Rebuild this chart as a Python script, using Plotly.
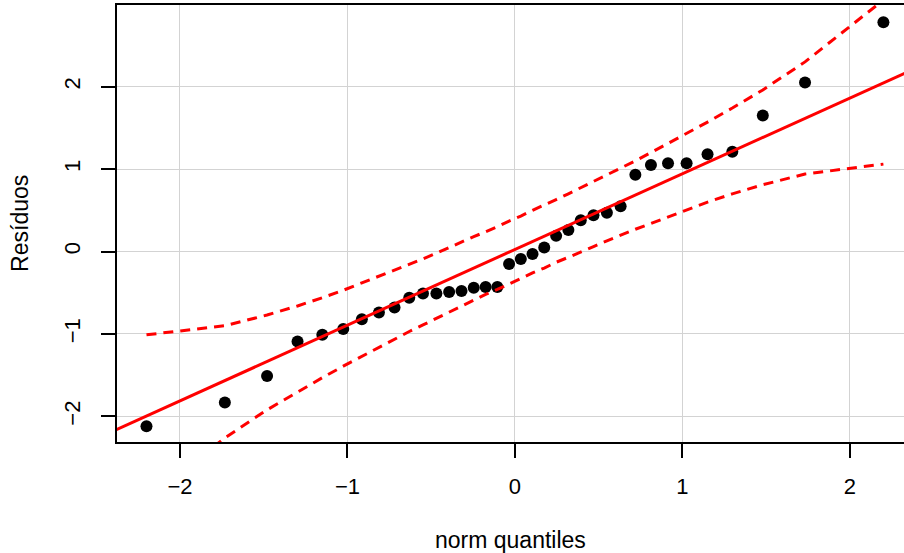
import plotly.graph_objects as go

# ---- data ----
theoretical_quantiles = [
    -2.200, -1.732, -1.480, -1.298, -1.150, -1.025, -0.914, -0.812, -0.719,
    -0.631, -0.549, -0.469, -0.393, -0.319, -0.246, -0.175, -0.105, -0.035,
    0.035, 0.105, 0.175, 0.246, 0.319, 0.393, 0.469, 0.549, 0.631,
    0.719, 0.812, 0.914, 1.025, 1.150, 1.298, 1.480, 1.732, 2.200,
]
residuals = [
    -2.12, -1.83, -1.51, -1.09, -1.01, -0.94, -0.82, -0.74, -0.68,
    -0.56, -0.51, -0.51, -0.49, -0.48, -0.44, -0.43, -0.43, -0.15,
    -0.09, -0.03, 0.05, 0.19, 0.26, 0.38, 0.44, 0.47, 0.55,
    0.93, 1.05, 1.07, 1.07, 1.18, 1.21, 1.65, 2.05, 2.78,
]
envelope_upper = [
    -1.01, -0.90, -0.77, -0.66, -0.56, -0.47, -0.38, -0.30, -0.23,
    -0.16, -0.09, -0.02, 0.05, 0.11, 0.18, 0.24, 0.30, 0.37,
    0.43, 0.50, 0.56, 0.63, 0.70, 0.77, 0.85, 0.93, 1.01,
    1.10, 1.20, 1.31, 1.43, 1.57, 1.74, 1.96, 2.30, 3.05,
]
envelope_lower = [
    -3.01, -2.26, -1.92, -1.70, -1.53, -1.39, -1.27, -1.16, -1.06,
    -0.97, -0.89, -0.81, -0.73, -0.66, -0.59, -0.52, -0.46, -0.39,
    -0.33, -0.26, -0.20, -0.13, -0.07, -0.01, 0.06, 0.13, 0.20,
    0.27, 0.34, 0.42, 0.51, 0.60, 0.70, 0.81, 0.94, 1.06,
]
line_intercept = 0.025
line_slope = 0.918
x_ticks = [-2, -1, 0, 1, 2]
y_ticks = [-2, -1, 0, 1, 2]
x_range = [-2.376, 2.323]
y_range = [-2.31, 2.99]
x_title = "norm quantiles"
y_title = "Resíduos"

FONT = "Liberation Sans, Arial, Helvetica, sans-serif"
RED = "#FF0000"

fig = go.Figure()

fig.add_trace(go.Scatter(
    x=theoretical_quantiles, y=residuals, mode="markers",
    marker=dict(color="black", size=12, line=dict(width=0)),
    showlegend=False, hoverinfo="skip",
))

line_x = [x_range[0] - 0.1, x_range[1] + 0.1]
line_y = [line_intercept + line_slope * v for v in line_x]
fig.add_trace(go.Scatter(
    x=line_x, y=line_y, mode="lines",
    line=dict(color=RED, width=3), showlegend=False, hoverinfo="skip",
))

for env in (envelope_upper, envelope_lower):
    fig.add_trace(go.Scatter(
        x=theoretical_quantiles, y=env, mode="lines",
        line=dict(color=RED, width=3, dash="10px,7px"),
        showlegend=False, hoverinfo="skip",
    ))

axis_common = dict(
    showgrid=True, gridcolor="#D3D3D3", gridwidth=1,
    zeroline=False,
    showline=True, linecolor="black", linewidth=1.5,
    ticks="outside", ticklen=14, tickwidth=1.5, tickcolor="black",
    tickfont=dict(family=FONT, size=22, color="black"),
)

fig.update_xaxes(
    **axis_common, range=x_range, tickvals=x_ticks, mirror=True,
    ticklabelstandoff=10,
)
fig.update_yaxes(
    **axis_common, range=y_range, tickvals=y_ticks, mirror=False,
    tickangle=-90, ticklabelstandoff=12,
)

fig.add_annotation(
    text=x_title, xref="paper", yref="paper", x=0.5, y=-0.225,
    xanchor="center", yanchor="middle", showarrow=False,
    font=dict(family=FONT, size=23, color="black"),
)
fig.add_annotation(
    text=y_title, xref="paper", yref="paper", x=-0.124, y=0.5,
    xanchor="center", yanchor="middle", showarrow=False, textangle=-90,
    font=dict(family=FONT, size=23, color="black"),
)

fig.update_layout(
    width=904, height=553,
    margin=dict(l=117, r=0, t=5, b=111),
    paper_bgcolor="white", plot_bgcolor="white",
    font=dict(family=FONT, size=22, color="black"),
)

fig.write_html(
    "out.html",
    config={"displayModeBar": False},
    post_script="document.body.style.margin='0';document.body.style.overflow='hidden';",
)
